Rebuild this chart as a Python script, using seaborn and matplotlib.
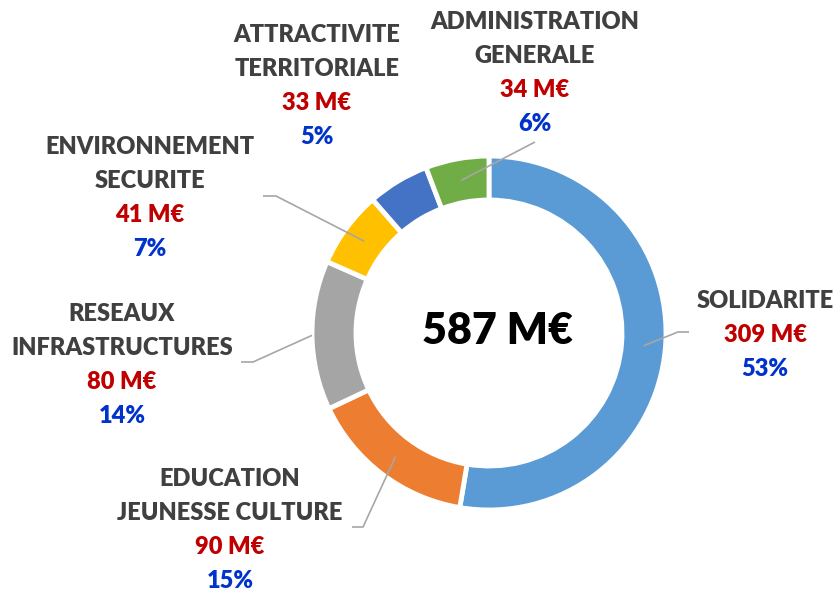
import numpy as np
import matplotlib
matplotlib.use("Agg")
import matplotlib.pyplot as plt
import seaborn as sns

# data
names = [["SOLIDARITE"], ["EDUCATION", "JEUNESSE CULTURE"], ["RESEAUX", "INFRASTRUCTURES"],
         ["ENVIRONNEMENT", "SECURITE"], ["ATTRACTIVITE", "TERRITORIALE"], ["ADMINISTRATION", "GENERALE"]]
amounts = [309, 90, 80, 41, 33, 34]
percents = [53, 15, 14, 7, 5, 6]
total_label = "587 M€"
colors = ["#5B9BD5", "#ED7D31", "#A5A5A5", "#FFC000", "#4472C4", "#70AD47"]

# layout (pixels, top-left origin)
W, H = 835, 595
cx, cy, R, ring = 489, 333, 177, 44
label_pos = [(765, 301), (230, 479), (122, 314), (150, 147), (317, 35), (535, 22)]
# leader: start radius, elbow, end  (None = no leader)
leaders = [(0.88, (678, 332), (689, 332)),
           (0.88, (363, 527), (352, 527)),
           (1.0, (253, 362), (241, 362)),
           (0.88, (276, 196), (263, 196)),
           None,
           (0.88, (535, 142), (535, 142))]
line_step = 34

sns.set_theme(style="white")
plt.rcParams['font.family'] = ['Lato', 'DejaVu Sans']

fig = plt.figure(figsize=(W / 100, H / 100), dpi=100)
ax = fig.add_axes([0, 0, 1, 1])

wedges, _ = ax.pie(amounts, radius=R, center=(cx, H - cy), startangle=90, counterclock=False,
                   colors=colors,
                   wedgeprops=dict(width=ring, edgecolor="white", linewidth=3.5))
ax.set_xlim(0, W)
ax.set_ylim(0, H)
ax.set_aspect("equal")
ax.axis("off")

ax.text(cx + 8, H - cy + 2, total_label, ha="center", va="center", fontsize=31,
        fontweight="heavy", color="black")

for i, w in enumerate(wedges):
    lx, ly = label_pos[i]
    lines = [(t, "#404040") for t in names[i]]
    lines.append((f"{amounts[i]} M€", "#C00000"))
    lines.append((f"{percents[i]}%", "#0033CC"))
    for k, (t, c) in enumerate(lines):
        ax.text(lx, H - (ly + k * line_step), t, ha="center", va="center",
                fontsize=17, fontweight="heavy", color=c)
    if leaders[i] is not None:
        rf, elbow, end = leaders[i]
        mid = np.deg2rad((w.theta1 + w.theta2) / 2)
        r0 = R - ring / 2 if rf < 1 else R
        sx, sy = cx + r0 * np.cos(mid), (H - cy) + r0 * np.sin(mid)
        ax.plot([sx, elbow[0], end[0]], [sy, H - elbow[1], H - end[1]],
                color="#A6A6A6", lw=1.2, solid_capstyle="butt")

fig.savefig("out.png", dpi=100)
